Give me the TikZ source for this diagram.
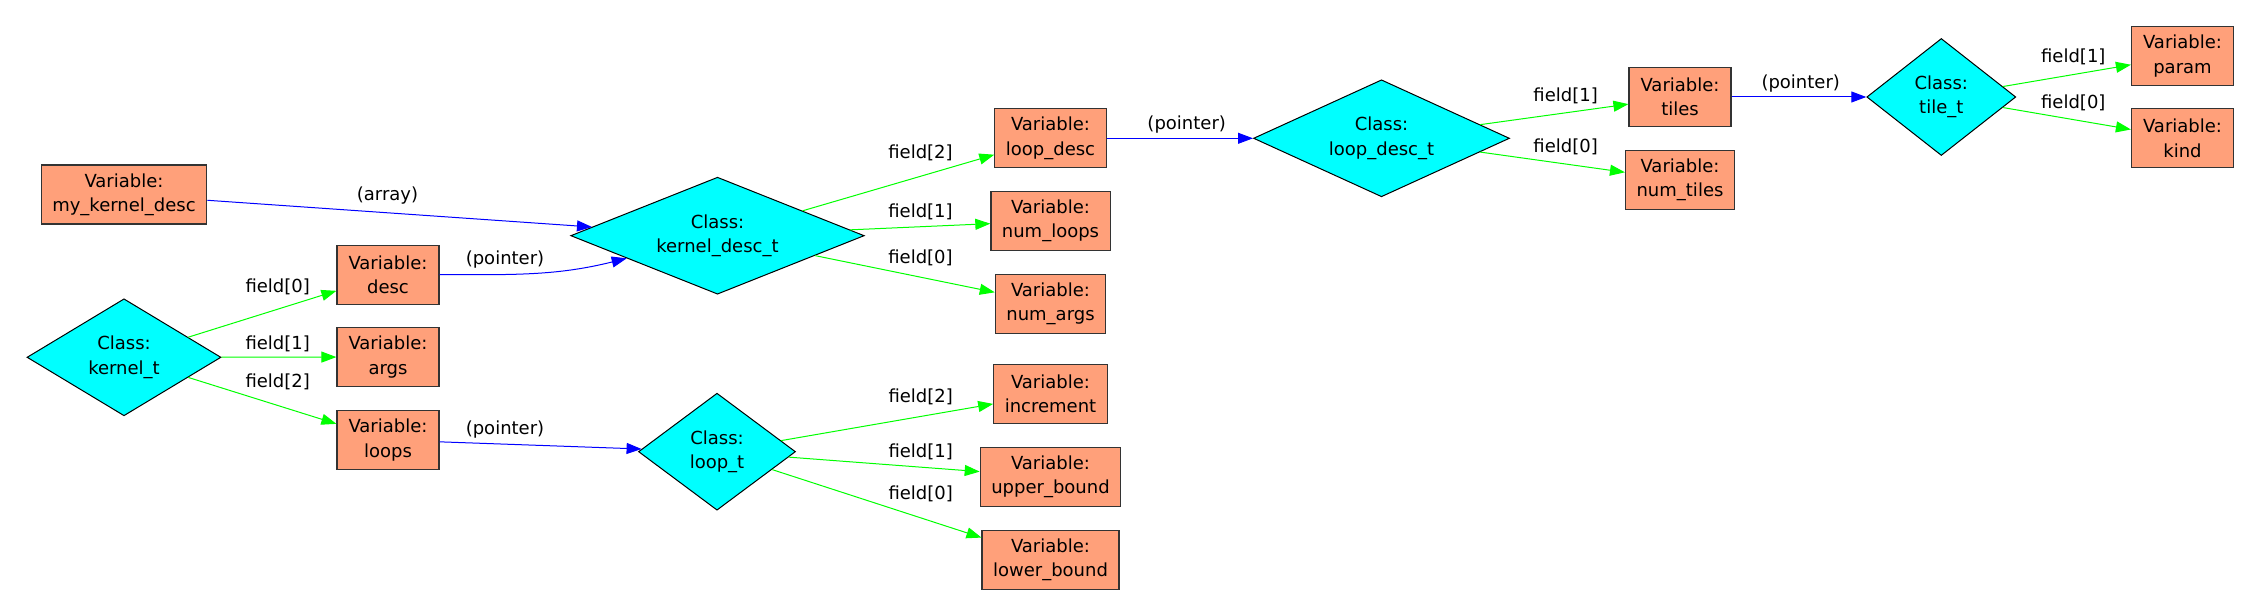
\documentclass[tikz,border=0pt]{standalone}
\usepackage{fontspec}
\setmainfont{DejaVu Sans}
\usetikzlibrary{shapes.geometric,arrows.meta}
\definecolor{salmonbox}{HTML}{FFA07A}
\definecolor{clscyan}{RGB}{0,255,255}
\definecolor{fldgreen}{RGB}{0,255,0}
\definecolor{ptrblue}{RGB}{0,0,255}

\begin{document}
\begin{tikzpicture}[x=0.5pt, y=0.5pt,
  every node/.style = {font=\fontsize{9}{12.2}\selectfont, align=center},
  var/.style = {shape=rectangle, draw=black!80, line width=0.6pt,
    fill=salmonbox, inner xsep=5.5pt, inner ysep=0pt,
    minimum width=51pt, minimum height=29.5pt},
  cls/.style = {shape=diamond, draw, line width=0.5pt, fill=clscyan,
    aspect=2, inner sep=0pt, minimum height=58.5pt},
  fld/.style = {draw=fldgreen, line width=0.5pt, -{Triangle[length=7.5pt,width=5.5pt]}},
  ptr/.style = {draw=ptrblue, line width=0.5pt, -{Triangle[length=7.5pt,width=5.5pt]}}]
  \useasboundingbox (0,0) rectangle (2261,616);

  \node[var] (mykd) at (124,421.5) {Variable:\\my\_kernel\_desc};
  \node[cls, minimum width=97pt] (kernelt) at (124,258.7) {Class:\\kernel\_t};
  \node[var] (desc) at (388,341.3) {Variable:\\desc};
  \node[var] (args) at (388,259) {Variable:\\args};
  \node[var] (loops) at (388,176) {Variable:\\loops};
  \node[cls, minimum width=146.75pt] (kdesct) at (717.5,380.3) {Class:\\kernel\_desc\_t};
  \node[cls, minimum width=78.5pt] (loopt) at (717,164.3) {Class:\\loop\_t};
  \node[var] (loopdesc) at (1050.5,477.7) {Variable:\\loop\_desc};
  \node[var] (numloops) at (1050.5,395) {Variable:\\num\_loops};
  \node[var] (numargs) at (1050.5,312.3) {Variable:\\num\_args};
  \node[var] (incr) at (1050.5,222) {Variable:\\increment};
  \node[var] (upper) at (1050.5,139) {Variable:\\upper\_bound};
  \node[var] (lower) at (1050.5,56) {Variable:\\lower\_bound};
  \node[cls, minimum width=128pt] (ldesct) at (1381.5,477.7) {Class:\\loop\_desc\_t};
  \node[var] (tiles) at (1680,519) {Variable:\\tiles};
  \node[var] (numtiles) at (1680,436) {Variable:\\num\_tiles};
  \node[cls, minimum width=74.5pt] (tilet) at (1941.3,519) {Class:\\tile\_t};
  \node[var] (param) at (2182.5,560) {Variable:\\param};
  \node[var] (kind) at (2182.5,477.7) {Variable:\\kind};

  \draw[ptr] (mykd) -- (kdesct) node (lbarr) at (387.5,420) {(array)};
  \draw[ptr] (desc) to[out=0, in=194] (kdesct) node (lbdesc) at (505,356) {(pointer)};
  \draw[ptr] (loops) -- (loopt) node (lbloops) at (505,186.7) {(pointer)};
  \draw[ptr] (loopdesc) -- (ldesct) node (lbld) at (1186.7,491.7) {(pointer)};
  \draw[ptr] (tiles) -- (tilet) node (lbtiles) at (1800.7,532) {(pointer)};

  \draw[fld] (kernelt) -- (desc) node (kt0) at (277.7,329.3) {field[0]};
  \draw[fld] (kernelt) -- (args) node (kt1) at (277.7,272) {field[1]};
  \draw[fld] (kernelt) -- (loops) node (kt2) at (277.7,234) {field[2]};
  \draw[fld] (kdesct) -- (loopdesc) node (kd2) at (920.5,463.3) {field[2]};
  \draw[fld] (kdesct) -- (numloops) node (kd1) at (920.5,404.3) {field[1]};
  \draw[fld] (kdesct) -- (numargs) node (kd0) at (920.5,357.7) {field[0]};
  \draw[fld] (loopt) -- (incr) node (lt2) at (920.7,219.3) {field[2]};
  \draw[fld] (loopt) -- (upper) node (lt1) at (920.7,163.7) {field[1]};
  \draw[fld] (loopt) -- (lower) node (lt0) at (920.7,121.7) {field[0]};
  \draw[fld] (ldesct) -- (tiles) node (ld1) at (1565.6,520) {field[1]};
  \draw[fld] (ldesct) -- (numtiles) node (ld0) at (1565.6,469.3) {field[0]};
  \draw[fld] (tilet) -- (param) node (tt1) at (2073.3,559.3) {field[1]};
  \draw[fld] (tilet) -- (kind) node (tt0) at (2073.3,512.7) {field[0]};
\end{tikzpicture}
\end{document}
